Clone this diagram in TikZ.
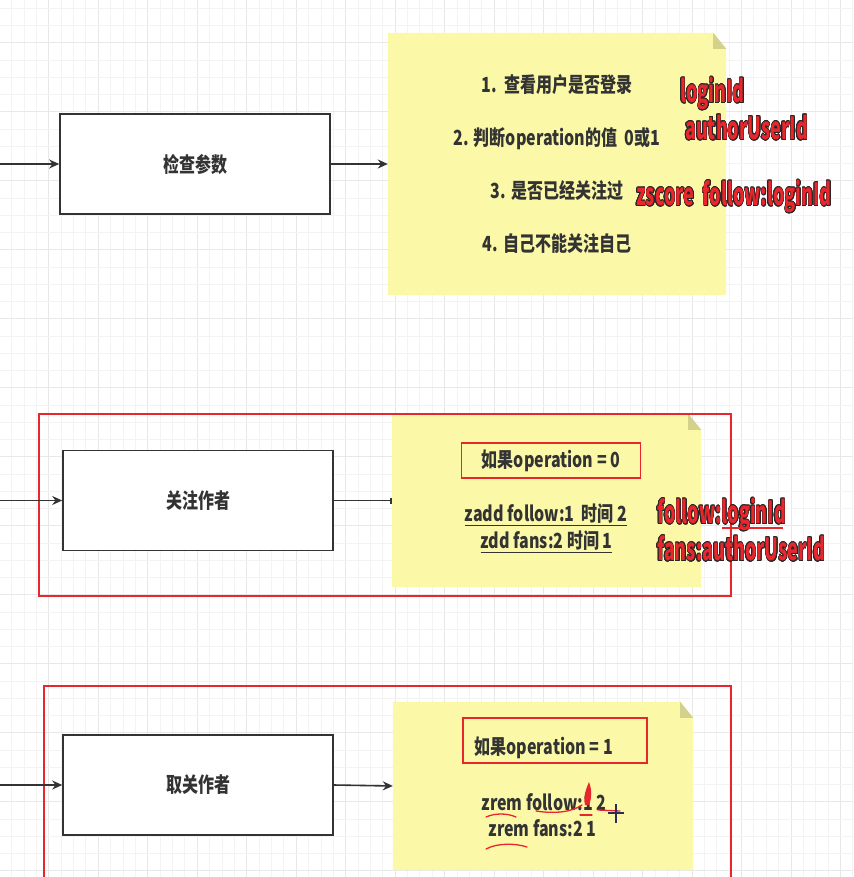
\documentclass[tikz,border=0pt]{standalone}
\usepackage{fontspec}
\usepackage{graphicx}
\usepackage{contour}
\setmainfont{Noto Sans CJK SC}
\usetikzlibrary{
    arrows.meta,
    positioning,
    backgrounds,
    calc
}
\definecolor{ink}{HTML}{333333}
\definecolor{notey}{HTML}{FBF9A8}
\definecolor{foldy}{HTML}{D3D18B}
\definecolor{markred}{HTML}{E8262C}
\definecolor{gridminor}{HTML}{F3F3F3}
\definecolor{gridmajor}{HTML}{E8E8E8}
\definecolor{cursorblue}{HTML}{2B2F58}
\contourlength{0.6pt}
% text looks stretched upwards in the screenshot
\newcommand{\tall}[1]{\scalebox{1}[1.3]{#1}}
\newcommand{\redtxt}[1]{\scalebox{0.84}[1.42]{\textcolor{markred}{\contour{black!85}{#1}}}}
% yellow sticky note with a folded corner, drawn behind a named node
\newcommand{\notefill}[1]{%
    \fill[notey] (#1.south west) -- (#1.north west) -- ([xshift=-13pt]#1.north east)
        -- ([yshift=-16pt]#1.north east) -- (#1.south east) -- cycle;
    \fill[foldy] ([xshift=-13pt]#1.north east) -- ([yshift=-16pt]#1.north east)
        -- ([xshift=-13pt,yshift=-16pt]#1.north east) -- cycle;}
\tikzset{
    % Boxes
    stepbox/.style={draw=ink,line width=1.6pt,fill=white,minimum width=270pt,minimum height=100pt,
        inner sep=0pt,text=ink,font=\bfseries\fontsize{16}{20}\selectfont},
    note/.style={inner sep=0pt,text=ink,align=center},
    notetext/.style={inner sep=0pt,text=ink,font=\bfseries\fontsize{16}{27}\selectfont},
    condbox/.style={draw=markred,line width=1.3pt},
    redframe/.style={draw=markred,line width=1.3pt},
    redlabel/.style={inner sep=0pt,anchor=west,font=\bfseries\fontsize{21.5}{26}\selectfont},
    %
    % Arrows
    arrow tip/.tip={Stealth[length=10pt,width=9pt]},
    arr/.style={-{arrow tip},draw=ink,line width=1.6pt},
    bararr/.style={-{Bar[width=6pt]},draw=ink,line width=1.6pt},
    scribble/.style={markred,line width=1.3pt,line cap=round},
}

\begin{document}
\begin{tikzpicture}[x=1pt,y=-1pt]
    \path[use as bounding box] (0,0) rectangle (853,877);
    \clip (0,0) rectangle (853,877);
    % background grid
    \begin{pgfonlayer}{background}
        \fill[white] (0,0) rectangle (853,877);
        \foreach \i in {0,...,68}{
            \pgfmathsetmacro\gx{11.7+12.37*\i}
            \pgfmathtruncatemacro\ismaj{mod(\i,4)==3}
            \ifnum\ismaj=1 \def\gc{gridmajor}\else\def\gc{gridminor}\fi
            \draw[\gc,line width=0.9pt] (\gx,0) -- (\gx,877);
        }
        \foreach \j in {0,...,50}{
            \pgfmathsetmacro\gy{8.3+17.25*\j}
            \pgfmathtruncatemacro\ismaj{mod(\j,4)==2}
            \ifnum\ismaj=1 \def\gc{gridmajor}\else\def\gc{gridminor}\fi
            \draw[\gc,line width=0.9pt] (0,\gy) -- (853,\gy);
        }
    \end{pgfonlayer}

    % step 1: check parameters
    \node[stepbox] (chk) at (195,164) {\tall{检查参数}};
    \node[note,minimum width=338pt,minimum height=262pt,
        font=\bfseries\fontsize{16}{52.7}\selectfont] (chkNote) at (557,164) {%
        \tall{1.\ \ 查看用户是否登录}\\
        \tall{2. 判断operation的值\ \ 0或1}\\
        \tall{3. 是否已经关注过}\\
        \tall{4. 自己不能关注自己}};
    \begin{pgfonlayer}{background}
        \notefill{chkNote}
    \end{pgfonlayer}
    \coordinate (in1) at (0,164);
    \draw[arr] (in1) -- (chk.west);
    \draw[arr] (chk.east) -- (chkNote.west);
    \node[redlabel] (loginLbl) at (680,94) {\redtxt{loginId}};
    \node[redlabel] (authorLbl) at (685,128) {\redtxt{authorUserId}};
    \node[redlabel] (zscoreLbl) at (636,197) {\redtxt{zscore\ \ follow:loginId}};

    % step 2: follow
    \draw[redframe] (39,414) rectangle (731,596);
    \node[stepbox] (fol) at (198,500.5) {\tall{关注作者}};
    \node[note,minimum width=309pt,minimum height=173pt] (folNote) at (546.5,500.5) {};
    \begin{pgfonlayer}{background}
        \notefill{folNote}
    \end{pgfonlayer}
    \coordinate (in2) at (0,500.5);
    \draw[arr] (in2) -- (fol.west);
    \draw[bararr] (fol.east) -- (folNote.west);
    \node[notetext,condbox,minimum width=179pt,minimum height=35pt] (cond0) at (551,460.5)
        {\tall{如果operation\ =\ 0}};
    \node[notetext] (zadd1) at (546,515) {\tall{\underline{zadd follow:1\ \ 时间 2}}};
    \node[notetext] (zadd2) at (546.5,542) {\tall{\underline{zdd fans:2 时间 1}}};
    \node[redlabel] (followLbl) at (657,515) {\redtxt{follow:loginId}};
    \node[redlabel] (fansLbl) at (657,549) {\redtxt{fans:authorUserId}};
    \draw[markred,line width=1.2pt] (722,528) -- (783,528);

    % step 3: unfollow
    \draw[redframe] (44,686) rectangle (731,900);
    \node[stepbox] (unf) at (198,785) {\tall{取关作者}};
    \node[note,minimum width=300pt,minimum height=168pt] (unfNote) at (543,786) {};
    \begin{pgfonlayer}{background}
        \notefill{unfNote}
    \end{pgfonlayer}
    \coordinate (in3) at (0,785);
    \draw[arr] (in3) -- (unf.west);
    \draw[arr] (unf.east) -- (unfNote.west);
    \node[condbox,minimum width=184pt,minimum height=45pt] (cond1) at (555,740.5) {};
    \node[notetext,anchor=west] (cond1Txt) at ([xshift=12pt,yshift=-7.5pt]cond1.west)
        {\tall{如果operation\ =\ 1}};
    \node[notetext] (zrem1) at (544,802) {\tall{zrem follow:1\ 2}};
    \node[notetext] (zrem2) at (542.5,828) {\tall{zrem fans:2\ 1}};
    % hand drawn marks
    \draw[scribble] (486,817) .. controls (495,813) and (507,813) .. (516,817);
    \draw[scribble] (536,811) .. controls (555,814) and (572,812) .. (582,805);
    \fill[markred] (585,805) .. controls (583,796) and (586,789) .. (589,782)
        .. controls (592,790) and (592,798) .. (589,805) -- cycle;
    \draw[scribble] (580,815) -- (592,815);
    \draw[scribble] (598,810) -- (620,811);
    \draw[scribble] (486,849) .. controls (497,843) and (515,843) .. (527,847);
    \draw[cursorblue,line width=1.4pt] (608,813) -- (624,813) (616,804) -- (616,823);
\end{tikzpicture}
\end{document}
